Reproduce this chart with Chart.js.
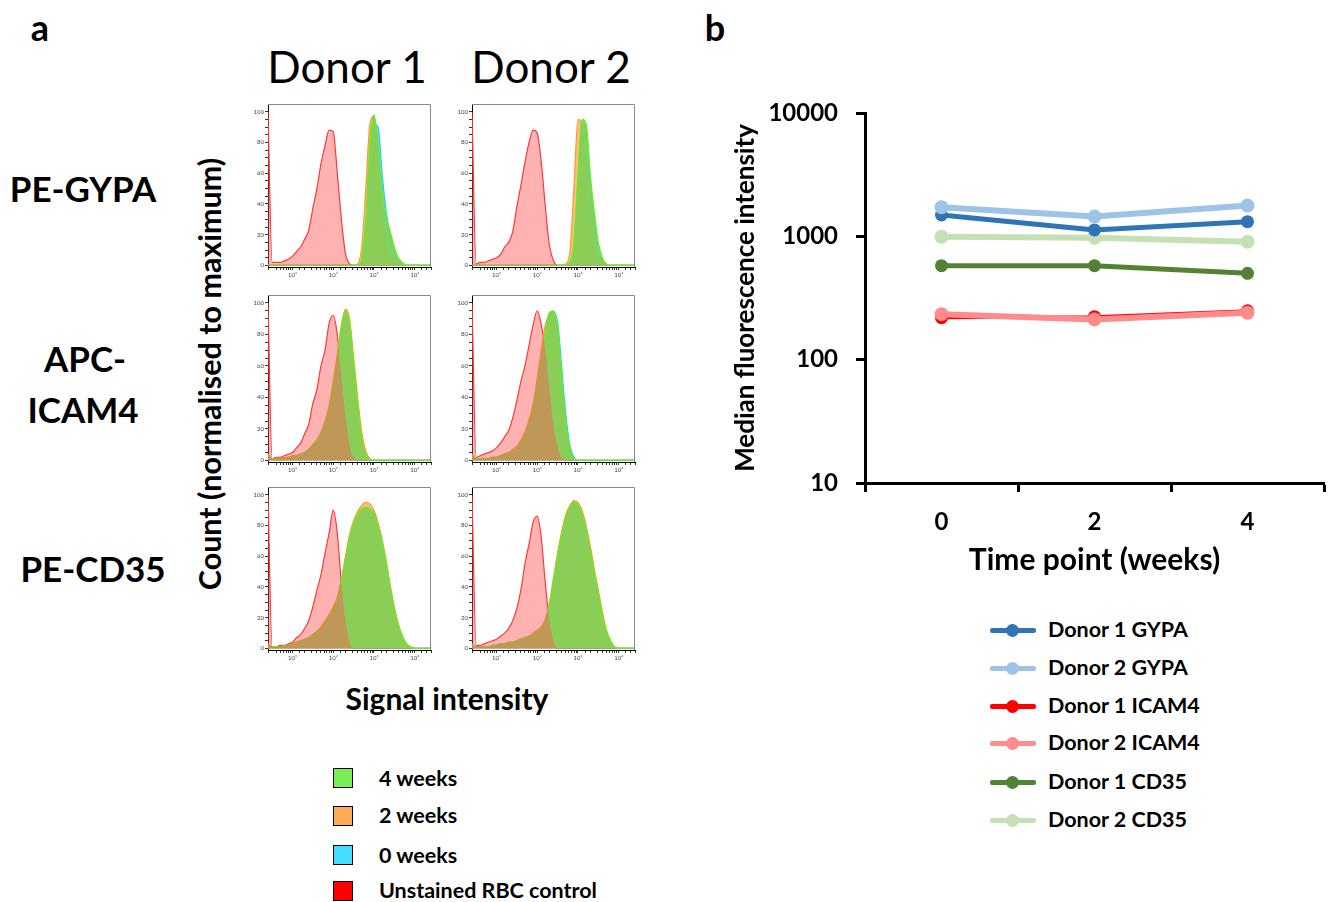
<!DOCTYPE html>
<html><head><meta charset="utf-8">
<script src="https://cdn.jsdelivr.net/npm/chart.js@4.4.1/dist/chart.umd.min.js"></script>
<style>
html,body{margin:0;padding:0;background:#fff;}
body{width:1340px;height:902px;position:relative;overflow:hidden;font-family:Lato,'Open Sans',sans-serif;color:#000;}
.t{position:absolute;white-space:nowrap;line-height:1;transform:translate(-50%,-50%);}
.b{font-weight:700;}
canvas{position:absolute;}
.lg{position:absolute;white-space:nowrap;line-height:1;font-weight:700;font-size:21.5px;transform:translateY(-50%);}
.box{position:absolute;width:20px;height:20px;border:1.5px solid #000;box-sizing:border-box;}
.ll{position:absolute;height:5px;width:46px;border-radius:2px;}
.ld{position:absolute;width:13px;height:13px;border-radius:50%;}
</style></head><body>

<div class="t b" style="left:40px;top:27px;font-size:36px;">a</div>
<div class="t b" style="left:715px;top:27px;font-size:36px;">b</div>
<div class="t" style="left:347px;top:66px;font-size:44px;">Donor 1</div>
<div class="t" style="left:551px;top:66px;font-size:44px;">Donor 2</div>
<div class="t b" style="left:83px;top:188px;font-size:35px;">PE-GYPA</div>
<div class="t b" style="left:85px;top:358px;font-size:35px;">APC-</div>
<div class="t b" style="left:83px;top:409px;font-size:35px;">ICAM4</div>
<div class="t b" style="left:93px;top:568px;font-size:35px;">PE-CD35</div>
<div class="t b" style="left:209px;top:374px;font-size:30.5px;transform:translate(-50%,-50%) rotate(-90deg);">Count (normalised to maximum)</div>
<div class="t b" style="left:447px;top:698px;font-size:30px;">Signal intensity</div>

<div class="box" style="left:333px;top:768px;background:#77ee55;"></div>
<div class="box" style="left:333px;top:806px;background:#ffaa55;"></div>
<div class="box" style="left:333px;top:845px;background:#44ddff;"></div>
<div class="box" style="left:333px;top:881px;background:#ff0000;"></div>
<div class="lg" style="left:379px;top:779px;">4 weeks</div>
<div class="lg" style="left:379px;top:816px;">2 weeks</div>
<div class="lg" style="left:379px;top:856px;">0 weeks</div>
<div class="lg" style="left:379px;top:891px;">Unstained RBC control</div>

<canvas id="c11" width="190" height="185" style="left:246px;top:99px;"></canvas>
<canvas id="c12" width="190" height="185" style="left:450px;top:99px;"></canvas>
<canvas id="c21" width="190" height="189" style="left:246px;top:290px;"></canvas>
<canvas id="c22" width="190" height="189" style="left:450px;top:290px;"></canvas>
<canvas id="c31" width="190" height="185" style="left:246px;top:482px;"></canvas>
<canvas id="c32" width="190" height="185" style="left:450px;top:482px;"></canvas>
<canvas id="cb" width="610" height="500" style="left:730px;top:90px;"></canvas>

<div id="legb"></div>

<script>
// ---------- Panel a data (histograms; x = log10 signal intensity bins) ----------
const logGrid = [0.4,0.5,0.6,0.7,0.8,0.9,1.0,1.1,1.2,1.3, 1.4,1.5,1.6,1.7,1.8,1.9,2.0,2.1,2.2,2.3, 2.4,2.5,2.6,2.7,2.8,2.9,3.0,3.1,3.2,3.3, 3.4,3.5,3.6,3.7,3.8,3.9,4.0,4.1,4.2,4.3, 4.4];
const xDecadeLabels = {1:'10\u00b9', 2:'10\u00b2', 3:'10\u00b3', 4:'10\u2074'};
const yTicksSmall = [0,5,10,15,20,25,30,35,40,45,50,55,60,65,70,75,80,85,90,95,100];
const yLabelsSmall = [0,20,40,60,80,100];

const gypaD1Red    = [100,2,2,2,3,4,6,9,12,17, 23,37,50,66,78,88,87,60,30,8, 1,0,0,0,0,0,0,0,0,0, 0,0,0,0,0,0,0,0,0,0, 0];
const gypaD1Blue   = [0,0,0,0,0,0,0,0,0,0, 0,0,0,0,0,0,0,0,0,0, 0,0,0,2,20,65,92,90,60,35, 20,9,3,1,0,0,0,0,0,0, 0];
const gypaD1Orange = [0,0,0,0,0,0,0,0,0,0, 0,0,0,0,0,0,0,0,0,0, 0,0,1,12,50,92,97,62,30,12, 4,1,0,0,0,0,0,0,0,0, 0];
const gypaD1Green  = [0,0,0,0,0,0,0,0,0,0, 0,0,0,0,0,0,0,0,0,0, 0,0,0,5,30,80,98,80,50,32, 22,12,5,2,0,0,0,0,0,0, 0];

const gypaD2Red    = [100,1,2,2,3,4,5,7,12,15, 22,38,52,67,80,88,86,67,38,13, 3,0,0,0,0,0,0,0,0,0, 0,0,0,0,0,0,0,0,0,0, 0];
const gypaD2Blue   = [0,0,0,0,0,0,0,0,0,0, 0,0,0,0,0,0,0,0,0,0, 0,0,0,0,1,10,50,92,90,55, 28,10,3,0,0,0,0,0,0,0, 0];
const gypaD2Orange = [0,0,0,0,0,0,0,0,0,0, 0,0,0,0,0,0,0,0,0,0, 0,0,0,1,8,50,95,90,55,25, 8,2,0,0,0,0,0,0,0,0, 0];
const gypaD2Green  = [0,0,0,0,0,0,0,0,0,0, 0,0,0,0,0,0,0,0,0,0, 0,0,0,0,2,15,60,95,92,60, 35,15,5,1,0,0,0,0,0,0, 0];

const icamD1Red    = [100,1,2,2,3,4,5,8,11,17, 23,36,45,60,70,87,92,80,52,28, 10,2,0,0,0,0,0,0,0,0, 0,0,0,0,0,0,0,0,0,0, 0];
const icamD1Blue   = [2,1,1,1,1,2,2,3,4,5, 7,9,12,16,23,32,46,63,82,93, 86,60,33,13,3,0,0,0,0,0, 0,0,0,0,0,0,0,0,0,0, 0];
const icamD1Orange = [4,1,1,1,2,2,3,3,4,5, 7,10,13,18,25,35,50,67,86,96, 90,66,40,18,6,1,0,0,0,0, 0,0,0,0,0,0,0,0,0,0, 0];
const icamD1Green  = [3,1,1,1,1,2,2,3,4,5, 7,10,13,17,24,33,48,65,84,95, 88,62,35,14,4,1,0,0,0,0, 0,0,0,0,0,0,0,0,0,0, 0];

const icamD2Red    = [100,2,3,4,5,6,8,11,15,19, 27,38,50,60,73,86,95,86,70,45, 22,8,2,0,0,0,0,0,0,0, 0,0,0,0,0,0,0,0,0,0, 0];
const icamD2Blue   = [2,1,1,1,1,2,2,3,4,5, 6,8,11,16,23,32,46,63,80,92, 94,88,60,30,10,2,0,0,0,0, 0,0,0,0,0,0,0,0,0,0, 0];
const icamD2Orange = [4,1,1,1,1,2,2,3,4,5, 7,9,13,18,26,36,52,70,86,92, 90,80,50,22,6,1,0,0,0,0, 0,0,0,0,0,0,0,0,0,0, 0];
const icamD2Green  = [3,1,1,1,1,2,2,3,4,5, 6,8,12,17,24,33,48,65,82,94, 95,85,55,25,8,1,0,0,0,0, 0,0,0,0,0,0,0,0,0,0, 0];

const cd35D1Red    = [100,1,1,2,2,3,4,7,9,13, 18,27,38,48,62,75,90,75,42,18, 4,0,0,0,0,0,0,0,0,0, 0,0,0,0,0,0,0,0,0,0, 0];
const cd35D1Blue   = [1,1,1,1,2,2,3,4,5,6, 7,9,11,13,16,20,25,31,43,57, 70,79,85,89,90,89,86,78,68,54, 38,25,14,7,3,1,0,0,0,0, 0];
const cd35D1Orange = [3,1,1,1,2,2,3,4,5,6, 7,9,11,14,18,22,27,33,45,60, 74,83,89,93,95,94,90,82,71,57, 41,27,16,8,3,1,0,0,0,0, 0];
const cd35D1Green  = [2,1,1,1,2,2,3,4,5,6, 7,9,11,13,17,21,26,32,44,58, 72,81,87,91,92,91,88,80,70,56, 40,26,15,8,3,1,0,0,0,0, 0];

const cd35D2Red    = [100,2,2,3,4,5,6,8,10,13, 18,26,38,55,68,82,86,72,42,18, 5,0,0,0,0,0,0,0,0,0, 0,0,0,0,0,0,0,0,0,0, 0];
const cd35D2Blue   = [1,1,1,1,1,2,2,3,3,4, 4,5,6,7,8,9,11,13,17,27, 43,59,73,84,92,96,92,85,75,62, 47,33,20,10,4,1,0,0,0,0, 0];
const cd35D2Orange = [3,1,1,1,1,2,2,3,3,4, 4,5,6,7,8,10,12,14,19,30, 46,62,76,87,93,96,95,90,80,67, 52,38,24,12,5,1,0,0,0,0, 0];
const cd35D2Green  = [2,1,1,1,1,2,2,3,3,4, 4,5,6,7,8,9,11,13,18,28, 44,60,74,85,92,95,94,88,78,65, 50,36,22,11,5,1,0,0,0,0, 0];

// ---------- Panel b data ----------
const weeks = [0, 2, 4];
const xTickPositions = [-1, 0, 1, 2, 3, 4, 5];
const xTickLabels = ['0', '2', '4'];
const yTickValues = [10, 100, 1000, 10000];
const seriesNames = ['Donor 1 GYPA','Donor 2 GYPA','Donor 1 ICAM4','Donor 2 ICAM4','Donor 1 CD35','Donor 2 CD35'];
const d1Gypa  = [1490, 1127, 1315];
const d2Gypa  = [1720, 1445, 1775];
const d1Icam4 = [219, 223, 249];
const d2Icam4 = [234, 212, 240];
const d1Cd35  = [578, 578, 501];
const d2Cd35  = [993, 975, 905];

// ---------- styling ----------
Chart.defaults.font.family = "Lato, 'Open Sans', sans-serif";
Chart.defaults.color = '#000';

const histStyle = {
  redFill: {border:'rgba(0,0,0,0)', fill:'rgba(255,85,85,0.45)', w:0},
  redLine: {border:'#ff3030', fill:'rgba(0,0,0,0)', w:1.2},
  green:   {border:'#66ee22', fill:'rgba(130,210,85,0.9)', w:1.2},
  orange:  {border:'#ff9933', fill:'rgba(255,165,80,0.75)', w:1.2},
  blue:    {border:'#22ccff', fill:'rgba(70,200,240,0.75)', w:1.2}
};

function histDs(vals, st, doFill){
  return {
    data: vals.map((v,i)=>({x: Math.pow(10, logGrid[i]), y: v})),
    borderColor: st.border, backgroundColor: st.fill, borderWidth: st.w,
    fill: doFill ? 'origin' : false, pointRadius: 0, cubicInterpolationMode: 'monotone'
  };
}

const boxPlugin = {
  id: 'box',
  afterDraw(chart){
    const {ctx, chartArea:a} = chart;
    ctx.save();
    ctx.strokeStyle = '#8a8a8a'; ctx.lineWidth = 1;
    ctx.beginPath();
    ctx.moveTo(a.left, a.top + 0.5);
    ctx.lineTo(a.right - 0.5, a.top + 0.5);
    ctx.lineTo(a.right - 0.5, a.bottom);
    ctx.stroke();
    ctx.restore();
  }
};

function smallChart(id, red, blue, orange, green){
  new Chart(document.getElementById(id), {
    type: 'line',
    data: { datasets: [
      histDs(red, histStyle.redFill, true),
      histDs(green, histStyle.green, true),
      histDs(orange, histStyle.orange, true),
      histDs(blue, histStyle.blue, true),
      histDs(red, histStyle.redLine, false)
    ]},
    options: {
      responsive: false, animation: false, devicePixelRatio: 1,
      layout: {padding: {top: 5, right: 5, left: 0, bottom: 0}},
      plugins: {legend: {display: false}, tooltip: {enabled: false}},
      scales: {
        x: {
          type: 'logarithmic', min: Math.pow(10, logGrid[0]), max: Math.pow(10, logGrid[logGrid.length-1]),
          afterFit: s => { s.height = 17; },
          grid: {drawOnChartArea: false, tickLength: 3, color: '#000', tickWidth: 0.8},
          border: {color: '#000', width: 1},
          ticks: {autoSkip: false, maxRotation: 0, minRotation: 0, padding: 1, font: {size: 6}, color: '#444',
            callback: (v) => {
              const l = Math.log10(v); const r = Math.round(l);
              return (Math.abs(l - r) < 1e-6 && xDecadeLabels[r]) ? xDecadeLabels[r] : '';
            }}
        },
        y: {
          min: -1, max: 105,
          afterBuildTicks: s => { s.ticks = yTicksSmall.map(v => ({value: v})); },
          afterFit: s => { s.width = 22; },
          grid: {drawOnChartArea: false, tickLength: 3, color: '#000', tickWidth: 0.8},
          border: {color: '#000', width: 1},
          ticks: {autoSkip: false, padding: 1, font: {size: 6}, color: '#444',
            callback: (v) => yLabelsSmall.includes(v) ? String(v) : ''}
        }
      }
    },
    plugins: [boxPlugin]
  });
}

smallChart('c11', gypaD1Red, gypaD1Blue, gypaD1Orange, gypaD1Green);
smallChart('c12', gypaD2Red, gypaD2Blue, gypaD2Orange, gypaD2Green);
smallChart('c21', icamD1Red, icamD1Blue, icamD1Orange, icamD1Green);
smallChart('c22', icamD2Red, icamD2Blue, icamD2Orange, icamD2Green);
smallChart('c31', cd35D1Red, cd35D1Blue, cd35D1Orange, cd35D1Green);
smallChart('c32', cd35D2Red, cd35D2Blue, cd35D2Orange, cd35D2Green);

// ---------- Panel b ----------
const lineStyles = [
  {color:'#2e75b6', w:5, r:6.5, order:3},
  {color:'#9dc3e6', w:6, r:7, order:2},
  {color:'#ff0000', w:3, r:6.5, order:1},
  {color:'#ff8c8c', w:6, r:7, order:0},
  {color:'#548235', w:5, r:6.5, order:4},
  {color:'#c5e0b4', w:6, r:7, order:5}
];
const seriesValues = [d1Gypa, d2Gypa, d1Icam4, d2Icam4, d1Cd35, d2Cd35];

new Chart(document.getElementById('cb'), {
  type: 'line',
  data: { datasets: seriesValues.map((vals, k) => ({
    label: seriesNames[k],
    data: vals.map((v, i) => ({x: weeks[i], y: v})),
    borderColor: lineStyles[k].color, backgroundColor: lineStyles[k].color,
    pointBackgroundColor: lineStyles[k].color, pointBorderWidth: 0,
    borderWidth: lineStyles[k].w, pointRadius: lineStyles[k].r,
    order: lineStyles[k].order, tension: 0, fill: false
  }))},
  options: {
    responsive: false, animation: false, devicePixelRatio: 1,
    layout: {padding: {top: 23, right: 12, left: 0, bottom: 0}},
    plugins: {legend: {display: false}, tooltip: {enabled: false}},
    scales: {
      x: {
        type: 'linear', min: xTickPositions[0], max: xTickPositions[xTickPositions.length-1],
        afterBuildTicks: s => { s.ticks = xTickPositions.map(v => ({value: v})); },
        afterFit: s => { s.height = 107; },
        grid: {drawOnChartArea: false, tickLength: 9, tickWidth: 3,
          tickColor: ctx => (ctx.tick && Math.abs(ctx.tick.value % 2) === 1) ? '#000' : 'rgba(0,0,0,0)'},
        border: {color: '#000', width: 3},
        ticks: {autoSkip: false, maxRotation: 0, padding: 16, font: {size: 24, weight: 'bold'}, color: '#000',
          callback: v => xTickLabels.includes(String(v)) ? String(v) : ''},
        title: {display: true, text: 'Time point (weeks)', font: {size: 30, weight: 'bold'}, color: '#000', padding: {top: 0, bottom: 12}}
      },
      y: {
        type: 'logarithmic', min: yTickValues[0], max: yTickValues[yTickValues.length-1],
        afterBuildTicks: s => { s.ticks = yTickValues.map(v => ({value: v})); },
        afterFit: s => { s.width = 135; s.paddingTop = 0; s.paddingBottom = 0; },
        grid: {drawOnChartArea: false, tickLength: 9, tickWidth: 3, tickColor: '#000'},
        border: {color: '#000', width: 3},
        ticks: {autoSkip: false, padding: 18, font: {size: 24, weight: 'bold'}, color: '#000',
          callback: v => String(v)},
        title: {display: true, text: 'Median fluorescence intensity', font: {size: 26, weight: 'bold'}, color: '#000', padding: {top: 0, bottom: 0}}
      }
    }
  }
});

// ---------- Panel b legend (HTML) ----------
const legTops = [630, 668, 706, 743, 782, 820];
const legb = document.getElementById('legb');
seriesNames.forEach((name, k) => {
  const y = legTops[k];
  const c = lineStyles[k].color;
  legb.insertAdjacentHTML('beforeend',
    `<div class="ll" style="left:990px;top:${y-2.5}px;background:${c};"></div>` +
    `<div class="ld" style="left:${1012-6.5}px;top:${y-6.5}px;background:${c};"></div>` +
    `<div class="lg" style="left:1048px;top:${y}px;">${name}</div>`);
});
</script>
</body></html>
